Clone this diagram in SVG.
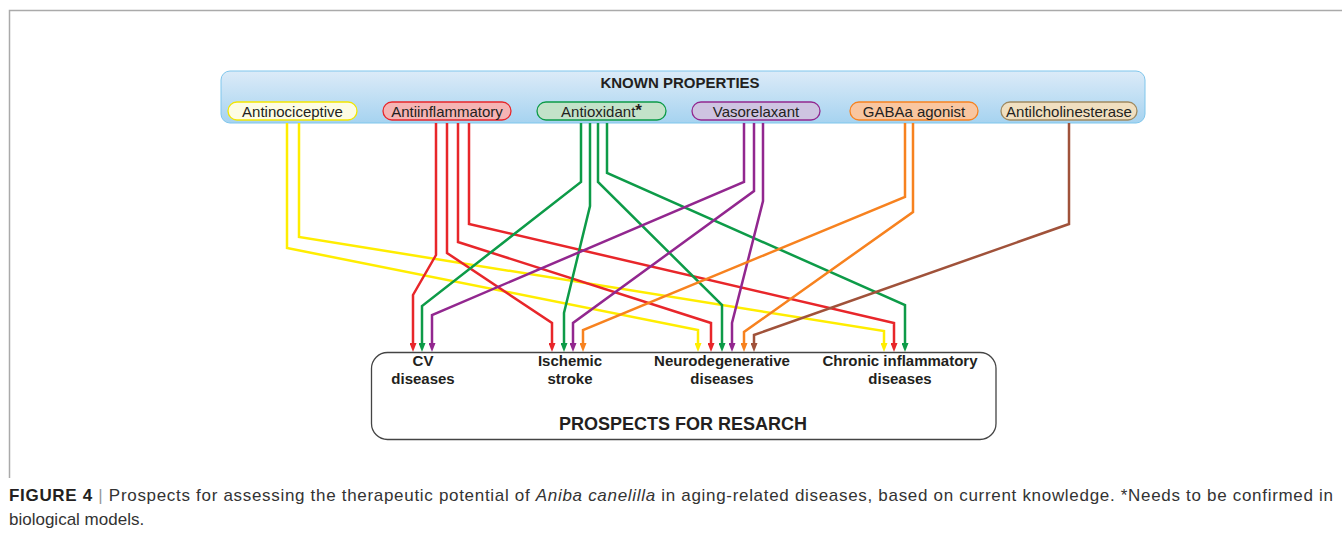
<svg xmlns="http://www.w3.org/2000/svg" width="1342" height="544" viewBox="0 0 1342 544">
<style>
text{font-family:"Liberation Sans",Arial,sans-serif;fill:#231f20}
.pill{font-size:15px;text-anchor:middle}
.lbl{font-size:15px;font-weight:bold;text-anchor:middle}
.c{fill:none;stroke-width:2.5;stroke-linejoin:miter}
.y{stroke:#ffed00}.r{stroke:#e8262a}.g{stroke:#0d9b48}.p{stroke:#92278f}.o{stroke:#f7821f}.b{stroke:#a0523a}
.cap{font-size:17px;fill:#333}
</style>
<defs>
<linearGradient id="kg" x1="0" y1="0" x2="0" y2="1">
<stop offset="0" stop-color="#dcebf8"/>
<stop offset="1" stop-color="#a6d3f0"/>
</linearGradient>
<marker id="ay" viewBox="0 0 9 7" refX="1" refY="3.5" markerWidth="9" markerHeight="7" markerUnits="userSpaceOnUse" orient="auto"><path d="M0,0 L9,3.5 L0,7 z" fill="#ffed00"/></marker>
<marker id="ar" viewBox="0 0 9 7" refX="1" refY="3.5" markerWidth="9" markerHeight="7" markerUnits="userSpaceOnUse" orient="auto"><path d="M0,0 L9,3.5 L0,7 z" fill="#e8262a"/></marker>
<marker id="ag" viewBox="0 0 9 7" refX="1" refY="3.5" markerWidth="9" markerHeight="7" markerUnits="userSpaceOnUse" orient="auto"><path d="M0,0 L9,3.5 L0,7 z" fill="#0d9b48"/></marker>
<marker id="ap" viewBox="0 0 9 7" refX="1" refY="3.5" markerWidth="9" markerHeight="7" markerUnits="userSpaceOnUse" orient="auto"><path d="M0,0 L9,3.5 L0,7 z" fill="#92278f"/></marker>
<marker id="ao" viewBox="0 0 9 7" refX="1" refY="3.5" markerWidth="9" markerHeight="7" markerUnits="userSpaceOnUse" orient="auto"><path d="M0,0 L9,3.5 L0,7 z" fill="#f7821f"/></marker>
<marker id="ab" viewBox="0 0 9 7" refX="1" refY="3.5" markerWidth="9" markerHeight="7" markerUnits="userSpaceOnUse" orient="auto"><path d="M0,0 L9,3.5 L0,7 z" fill="#a0523a"/></marker>
</defs>
<rect width="1342" height="544" fill="#fff"/>
<path d="M9.5,478 V10.5 H1342" fill="none" stroke="#aaa" stroke-width="1.5"/>

<g id="known-properties">
<rect x="221" y="71" width="924" height="52" rx="9" fill="url(#kg)" stroke="#7fc6ec" stroke-width="1"/>
<text x="680" y="88" style="font-size:15px;font-weight:bold;text-anchor:middle">KNOWN PROPERTIES</text>
</g>

<g id="connectors">
<path class="c y" d="M287,123 V248 L698,330 V344" marker-end="url(#ay)"/>
<path class="c y" d="M299,123 V237 L884,331 V344" marker-end="url(#ay)"/>
<path class="c r" d="M436,123 V255 L413,295 V344" marker-end="url(#ar)"/>
<path class="c r" d="M447,123 V253 L552,323 V344" marker-end="url(#ar)"/>
<path class="c r" d="M458,123 V242 L711,323 V344" marker-end="url(#ar)"/>
<path class="c r" d="M469,123 V224 L894,323 V344" marker-end="url(#ar)"/>
<path class="c g" d="M581,123 V182 L422,306 V344" marker-end="url(#ag)"/>
<path class="c g" d="M590,123 V206 L564,313 V344" marker-end="url(#ag)"/>
<path class="c g" d="M598,123 V182 L722,305 V344" marker-end="url(#ag)"/>
<path class="c g" d="M607,123 V173 L905,305 V344" marker-end="url(#ag)"/>
<path class="c p" d="M744,123 V182 L432,315 V344" marker-end="url(#ap)"/>
<path class="c p" d="M754,123 V191 L573,323 V344" marker-end="url(#ap)"/>
<path class="c p" d="M763,123 V201 L732,323 V344" marker-end="url(#ap)"/>
<path class="c o" d="M905,123 V197 L583,330 V344" marker-end="url(#ao)"/>
<path class="c o" d="M913,123 V212 L744,332 V344" marker-end="url(#ao)"/>
<path class="c b" d="M1069,123 V224 L754,335 V344" marker-end="url(#ab)"/>
</g>

<g id="antinociceptive">
<rect x="228" y="102" width="129" height="18" rx="9" fill="#fdfce4" stroke="#f3e600" stroke-width="1.3"/>
<text class="pill" x="292.5" y="116.5">Antinociceptive</text>
</g>
<g id="antiinflammatory">
<rect x="383" y="102" width="128" height="18" rx="9" fill="#f5b4b4" stroke="#e8262a" stroke-width="1.3"/>
<text class="pill" x="447" y="116.5">Antiinflammatory</text>
</g>
<g id="antioxidant">
<rect x="537" y="102" width="129" height="18" rx="9" fill="#c3e2c9" stroke="#0d9b48" stroke-width="1.3"/>
<text class="pill" x="601.5" y="116.5">Antioxidant<tspan style="font-weight:bold;font-size:17px" dy="-1">*</tspan></text>
</g>
<g id="vasorelaxant">
<rect x="692" y="102" width="128" height="18" rx="9" fill="#cec4e1" stroke="#92278f" stroke-width="1.3"/>
<text class="pill" x="756" y="116.5">Vasorelaxant</text>
</g>
<g id="gabaa-agonist">
<rect x="850" y="102" width="128" height="18" rx="9" fill="#f9c6a0" stroke="#f7821f" stroke-width="1.3"/>
<text class="pill" x="914" y="116.5">GABAa agonist</text>
</g>
<g id="antilcholinesterase">
<rect x="1001" y="102" width="136" height="18" rx="9" fill="#f0dfc0" stroke="#a08a60" stroke-width="1.3"/>
<text class="pill" x="1069" y="116.5">Antilcholinesterase</text>
</g>

<g id="prospects">
<rect x="371.5" y="352.5" width="624.5" height="87" rx="16" fill="none" stroke="#444" stroke-width="1.3"/>
<text x="683" y="430" style="font-size:18px;font-weight:bold;text-anchor:middle">PROSPECTS FOR RESARCH</text>
</g>
<g id="cv-diseases">
<text class="lbl" x="423" y="366">CV</text>
<text class="lbl" x="423" y="384">diseases</text>
</g>
<g id="ischemic-stroke">
<text class="lbl" x="570" y="366">Ischemic</text>
<text class="lbl" x="570" y="384">stroke</text>
</g>
<g id="neurodegenerative-diseases">
<text class="lbl" x="722" y="366">Neurodegenerative</text>
<text class="lbl" x="722" y="384">diseases</text>
</g>
<g id="chronic-inflammatory-diseases">
<text class="lbl" x="900" y="366">Chronic inflammatory</text>
<text class="lbl" x="900" y="384">diseases</text>
</g>

<g id="caption">
<text class="cap" x="9" y="501" textLength="1324" lengthAdjust="spacing"><tspan font-weight="bold" fill="#231f20">FIGURE 4 </tspan><tspan fill="#999">|</tspan> Prospects for assessing the therapeutic potential of <tspan font-style="italic">Aniba canelilla</tspan> in aging-related diseases, based on current knowledge. *Needs to be confirmed in</text>
<text class="cap" x="9" y="525">biological models.</text>
</g>
</svg>
